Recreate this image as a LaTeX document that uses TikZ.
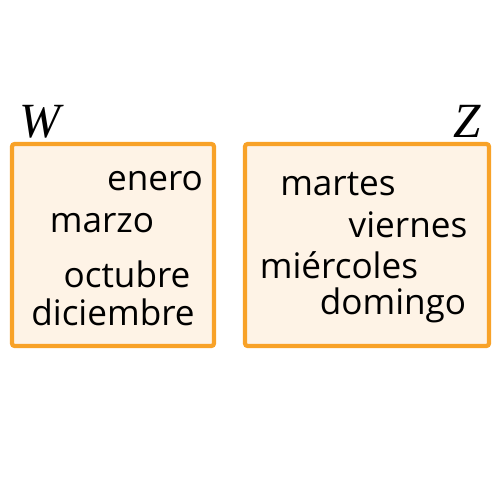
\documentclass[tikz,border=0pt]{standalone}
\usepackage{fontspec}
\setsansfont{Open Sans}
\newfontfamily\setnamefont{Liberation Serif}
\definecolor{boxorange}{RGB}{248,162,40}
\definecolor{boxfill}{RGB}{254,243,230}

\begin{document}
\begin{tikzpicture}[x=0.02cm,y=-0.02cm,
        setbox/.style={draw=boxorange, line width=2.4pt, fill=boxfill, rounded corners=1.5pt},
        word/.style={anchor=base, inner sep=0pt, font=\sffamily\fontsize{20}{20}\selectfont},
        setname/.style={anchor=base, inner sep=0pt, font=\setnamefont\itshape\fontsize{28}{28}\selectfont}]

        % Frame of the picture
        \useasboundingbox (0,0) rectangle (500,500);

        % The two sets
        \draw[setbox] (12,144) rectangle (214,346);
        \draw[setbox] (245,144) rectangle (489,346);

        % Names of the sets
        \node[setname] (W) at (40,137) {W};
        \node[setname] (Z) at (467,137) {Z};

        % Months in W
        \node[word] (enero) at (155,190) {enero};
        \node[word] (marzo) at (102,232) {marzo};
        \node[word] (octubre) at (127,287) {octubre};
        \node[word] (diciembre) at (113,325) {diciembre};

        % Days in Z
        \node[word] (martes) at (338,195) {martes};
        \node[word] (viernes) at (408,237) {viernes};
        \node[word] (miercoles) at (339,278) {miércoles};
        \node[word] (domingo) at (393,314) {domingo};

    \end{tikzpicture}
\end{document}
